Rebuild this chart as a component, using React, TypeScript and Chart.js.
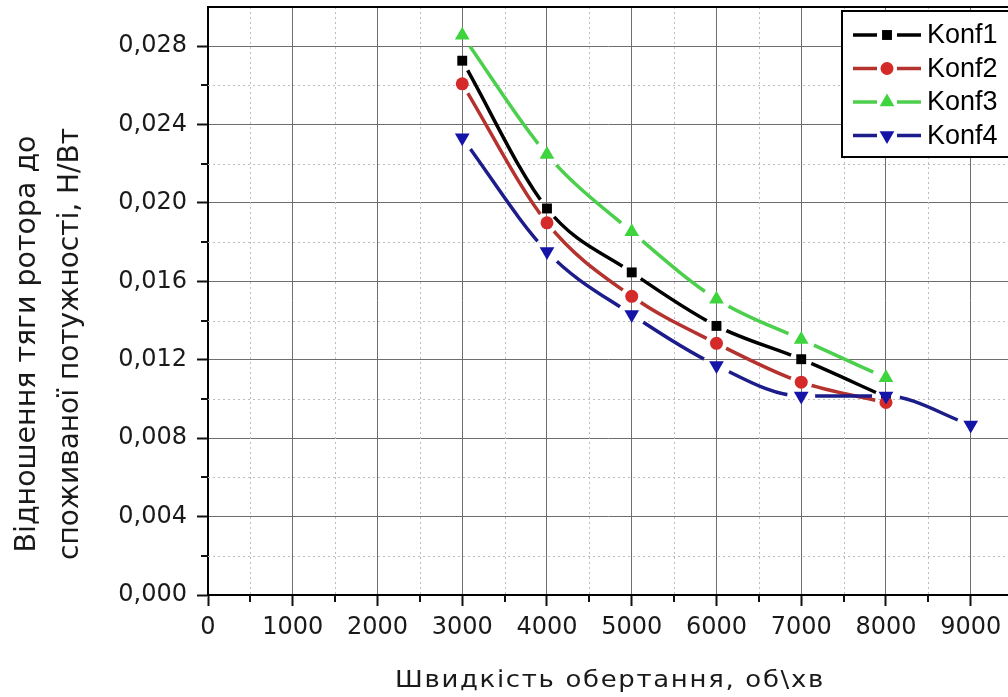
import { useEffect, useRef } from 'react';
import { Chart, registerables } from 'chart.js';

Chart.register(...registerables);

// ---- data ----
const speeds = [3000, 4000, 5000, 6000, 7000, 8000, 9000];
const konf1 = [0.02726, 0.01972, 0.01646, 0.01373, 0.01203, 0.0101];
const konf2 = [0.02608, 0.01899, 0.01524, 0.01284, 0.01086, 0.00982];
const konf3 = [0.02856, 0.02247, 0.01853, 0.01509, 0.01304, 0.01108];
const konf4 = [0.02333, 0.01752, 0.01431, 0.01171, 0.01015, 0.01015, 0.00867];
const seriesNames = ['Konf1', 'Konf2', 'Konf3', 'Konf4'];
const seriesValues = [konf1, konf2, konf3, konf4];
const xTickValues = [0, 1000, 2000, 3000, 4000, 5000, 6000, 7000, 8000, 9000];
const yTickValues = [0, 0.004, 0.008, 0.012, 0.016, 0.02, 0.024, 0.028];
const xTitle = 'Швидкість обертання, об\\хв';
const yTitleLines = ['Відношення тяги ротора до', 'споживаної потужності, Н/Вт'];
const xMin = 0;
const xMax = 9440;
const yMin = 0;
const yMax = 0.03;

// ---- styles ----
const styles = [
  { line: '#000000', fill: '#000000', shape: 'rect', radius: 7, rotation: 0, hole: 11 },
  { line: '#b5332e', fill: '#d42a2a', shape: 'circle', radius: 6.5, rotation: 0, hole: 11 },
  { line: '#4ccf4c', fill: '#3dd43d', shape: 'triangle', radius: 8.5, rotation: 0, hole: 14 },
  { line: '#1c1c8a', fill: '#1414a8', shape: 'triangle', radius: 8.5, rotation: 180, hole: 14 },
];
const drawOrder = [4, 3, 2, 1];

function drawMarker(ctx: CanvasRenderingContext2D, shape: string, x: number, y: number, r: number, rot: number) {
  ctx.beginPath();
  if (shape === 'rect') {
    const s = r * Math.SQRT1_2;
    ctx.rect(x - s, y - s, 2 * s, 2 * s);
  } else if (shape === 'circle') {
    ctx.arc(x, y, r, 0, Math.PI * 2);
  } else {
    let a = (rot * Math.PI) / 180;
    ctx.moveTo(x + Math.sin(a) * r, y - Math.cos(a) * r);
    a += (2 * Math.PI) / 3;
    ctx.lineTo(x + Math.sin(a) * r, y - Math.cos(a) * r);
    a += (2 * Math.PI) / 3;
    ctx.lineTo(x + Math.sin(a) * r, y - Math.cos(a) * r);
    ctx.closePath();
  }
  ctx.fill();
}

const gapPlugin = {
  id: 'lineGaps',
  beforeDatasetDraw(chart: any, args: any) {
    const ctx = chart.ctx;
    const hole = styles[args.index].hole;
    ctx.save();
    ctx.beginPath();
    ctx.rect(0, 0, chart.width, chart.height);
    for (const p of args.meta.data) {
      ctx.moveTo(p.x + hole, p.y);
      ctx.arc(p.x, p.y, hole, 0, Math.PI * 2, true);
    }
    ctx.clip('evenodd');
  },
  afterDatasetDraw(chart: any, args: any) {
    const ctx = chart.ctx;
    ctx.restore();
    for (const p of args.meta.data) p.draw(ctx, chart.chartArea);
  },
};

function minorValues(ticks: any[], max: number) {
  const out: number[] = [];
  for (let i = 0; i < ticks.length; i++) {
    const step = i + 1 < ticks.length ? ticks[i + 1].value - ticks[i].value : ticks[i].value - ticks[i - 1].value;
    const v = ticks[i].value + step / 2;
    if (v < max - 1e-9) out.push(v);
  }
  return out;
}

const decorPlugin = {
  id: 'decor',
  beforeDatasetsDraw(chart: any) {
    const { ctx, chartArea: a, scales } = chart;
    const xs = scales.x;
    const ys = scales.y;
    ctx.save();
    ctx.strokeStyle = '#bdbdbd';
    ctx.lineWidth = 1;
    ctx.setLineDash([2, 3]);
    const xm = minorValues(xs.ticks, xs.max);
    const ym = minorValues(ys.ticks, ys.max);
    for (const v of xm) {
      const px = Math.round(xs.getPixelForValue(v)) + 0.5;
      ctx.beginPath();
      ctx.moveTo(px, a.top);
      ctx.lineTo(px, a.bottom);
      ctx.stroke();
    }
    for (const v of ym) {
      const py = Math.round(ys.getPixelForValue(v)) + 0.5;
      ctx.beginPath();
      ctx.moveTo(a.left, py);
      ctx.lineTo(a.right, py);
      ctx.stroke();
    }
    ctx.setLineDash([]);
    ctx.strokeStyle = '#111';
    ctx.lineWidth = 2;
    for (const v of xm) {
      const px = Math.round(xs.getPixelForValue(v));
      ctx.beginPath();
      ctx.moveTo(px, a.bottom);
      ctx.lineTo(px, a.bottom + 7);
      ctx.stroke();
    }
    for (const v of ym) {
      const py = Math.round(ys.getPixelForValue(v));
      ctx.beginPath();
      ctx.moveTo(a.left - 7, py);
      ctx.lineTo(a.left, py);
      ctx.stroke();
    }
    // top frame
    ctx.strokeStyle = '#000';
    ctx.lineWidth = 2;
    ctx.beginPath();
    ctx.moveTo(a.left - 1, a.top);
    ctx.lineTo(a.right, a.top);
    ctx.stroke();
    ctx.restore();
  },
  afterDraw(chart: any) {
    const { ctx, chartArea: a } = chart;
    ctx.save();
    // legend
    const bx = 842, by = 11, bw = 200, bh = 146;
    ctx.fillStyle = '#ffffff';
    ctx.fillRect(bx, by, bw, bh);
    ctx.strokeStyle = '#000';
    ctx.lineWidth = 2;
    ctx.strokeRect(bx, by, bw, bh);
    seriesNames.forEach((name, i) => {
      const st = styles[i];
      const y = 35 + i * 33.5;
      ctx.strokeStyle = st.line;
      ctx.lineWidth = 3.5;
      ctx.beginPath();
      ctx.moveTo(853, y);
      ctx.lineTo(877, y);
      ctx.moveTo(897, y);
      ctx.lineTo(921, y);
      ctx.stroke();
      ctx.fillStyle = st.fill;
      drawMarker(ctx, st.shape, 887, y, st.radius, st.rotation);
      ctx.fillStyle = '#000';
      ctx.font = '27px "Liberation Sans", Arial, sans-serif';
      ctx.textAlign = 'left';
      ctx.textBaseline = 'middle';
      ctx.fillText(name, 927, y + 1);
    });
    // x title
    ctx.fillStyle = '#1a1a1a';
    ctx.font = '23px "DejaVu Sans", sans-serif';
    ctx.textAlign = 'center';
    ctx.textBaseline = 'alphabetic';
    if ('letterSpacing' in ctx) (ctx as any).letterSpacing = '1.5px';
    const w = ctx.measureText(xTitle).width;
    ctx.save();
    ctx.translate(610, 687);
    ctx.scale(430 / w, 1);
    ctx.fillText(xTitle, 0, 0);
    ctx.restore();
    if ('letterSpacing' in ctx) (ctx as any).letterSpacing = '0px';
    // y title
    ctx.font = '29px "DejaVu Sans", sans-serif';
    const baseX = [35, 78];
    const lens = [417, 432];
    yTitleLines.forEach((line, i) => {
      const lw = ctx.measureText(line).width;
      ctx.save();
      ctx.translate(baseX[i], 344);
      ctx.rotate(-Math.PI / 2);
      ctx.scale(lens[i] / lw, 1);
      ctx.fillText(line, 0, 0);
      ctx.restore();
    });
    ctx.restore();
  },
};

export default function App() {
  const canvasRef = useRef<HTMLCanvasElement | null>(null);

  useEffect(() => {
    document.body.style.margin = '0';
    const canvas = canvasRef.current;
    if (!canvas) return;
    const datasets = seriesValues.map((vals, i) => ({
      label: seriesNames[i],
      data: vals.map((v, j) => ({ x: speeds[j], y: v })),
      borderColor: styles[i].line,
      backgroundColor: styles[i].fill,
      borderWidth: 3.5,
      pointStyle: styles[i].shape,
      pointRotation: styles[i].rotation,
      pointRadius: styles[i].radius,
      pointBackgroundColor: styles[i].fill,
      pointBorderColor: styles[i].fill,
      pointBorderWidth: 0,
      cubicInterpolationMode: 'monotone' as const,
      fill: false,
      order: drawOrder[i],
    }));
    const tickFont = { family: '"DejaVu Sans", sans-serif', size: 24 };
    const chart = new Chart(canvas, {
      type: 'line',
      data: { datasets },
      plugins: [gapPlugin, decorPlugin],
      options: {
        responsive: false,
        animation: false,
        layout: { autoPadding: false, padding: { top: 7, right: 0, left: 0, bottom: 0 } },
        plugins: { legend: { display: false }, tooltip: { enabled: false } },
        scales: {
          x: {
            type: 'linear',
            min: xMin,
            max: xMax,
            afterBuildTicks: (s: any) => { s.ticks = xTickValues.map((v) => ({ value: v })); },
            ticks: {
              font: tickFont,
              color: '#1a1a1a',
              padding: 7,
              maxRotation: 0,
              autoSkip: false,
              callback: (v: any) => String(v),
            },
            grid: { color: '#6e6e6e', lineWidth: 1, tickLength: 11, tickColor: '#111', tickWidth: 2 },
            border: { display: true, color: '#000', width: 2 },
            afterFit: (s: any) => { s.height = 102; s.paddingLeft = 0; s.paddingRight = 0; },
          },
          y: {
            type: 'linear',
            min: yMin,
            max: yMax,
            afterBuildTicks: (s: any) => { s.ticks = yTickValues.map((v) => ({ value: v })); },
            ticks: {
              font: tickFont,
              color: '#1a1a1a',
              padding: 10,
              autoSkip: false,
              callback: (v: any) => Number(v).toFixed(3).replace('.', ','),
            },
            grid: { color: '#6e6e6e', lineWidth: 1, tickLength: 11, tickColor: '#111', tickWidth: 2 },
            border: { display: true, color: '#000', width: 2 },
            afterFit: (s: any) => { s.width = 208; s.paddingTop = 0; s.paddingBottom = 0; },
          },
        },
      },
    });
    return () => chart.destroy();
  }, []);

  return (
    <div style={{ position: 'absolute', left: 0, top: 0, width: 1008, height: 697, background: '#fff' }}>
      <canvas ref={canvasRef} width={1008} height={697} style={{ display: 'block' }} />
    </div>
  );
}
